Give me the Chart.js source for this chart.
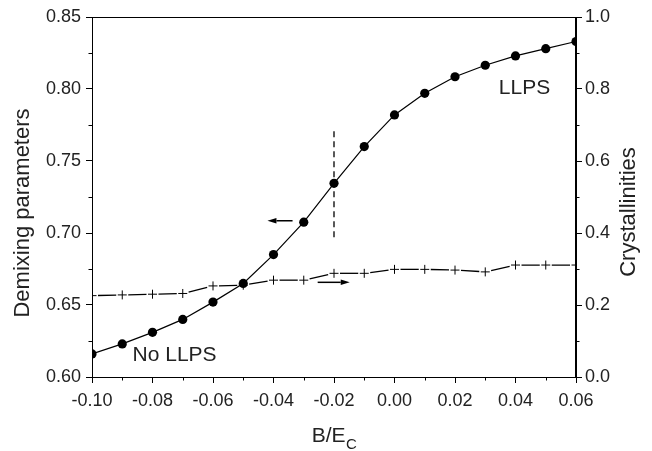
<!DOCTYPE html>
<html>
<head>
<meta charset="utf-8">
<script src="https://cdn.jsdelivr.net/npm/chart.js@4.4.1/dist/chart.umd.min.js"></script>
<style>
  html, body { margin: 0; padding: 0; background: #fff; }
  canvas { display: block; }
</style>
</head>
<body>
<canvas id="chart" width="652" height="451"></canvas>
<script>
// B/Ec values along the x axis
const bOverEc = [-0.10, -0.09, -0.08, -0.07, -0.06, -0.05, -0.04, -0.03, -0.02,
                 -0.01, 0.00, 0.01, 0.02, 0.03, 0.04, 0.05, 0.06];
// demixing parameters (left axis, filled circles)
const demixing = [0.616, 0.623, 0.631, 0.640, 0.652, 0.665, 0.685, 0.7075, 0.7345,
                  0.760, 0.782, 0.797, 0.8085, 0.8165, 0.823, 0.828, 0.833];
// crystallinities (right axis, crosses)
const crystallinity = [0.226, 0.228, 0.230, 0.232, 0.253, 0.255, 0.269, 0.269, 0.288,
                       0.288, 0.299, 0.299, 0.297, 0.292, 0.311, 0.311, 0.311];

// vertical dashed marker at the transition
const boundaryX = -0.02;
const boundaryRange = [0.697, 0.771];

// arrows pointing at the axis each curve belongs to
const arrows = [
  { axis: 'y',  from: [-0.0337, 0.7085], to: [-0.0420, 0.7085] },
  { axis: 'y1', from: [-0.0254, 0.263],  to: [-0.0148, 0.263] }
];

// region labels (left edge, vertical middle), on the left axis
const regionLabels = [
  { text: 'LLPS',    x: 0.0345,  y: 0.8005 },
  { text: 'No LLPS', x: -0.0866, y: 0.6149 }
];

const FONT = '"Liberation Sans", Arial, sans-serif';
const INK = '#222';
const GAP = 6; // gap left round each cross on the dashed line

function toPoints(xs, ys) {
  return xs.map((x, i) => ({ x: x, y: ys[i] }));
}

function segLen(ctx) {
  return Math.hypot(ctx.p1.x - ctx.p0.x, ctx.p1.y - ctx.p0.y);
}

const extras = {
  id: 'extras',
  afterDatasetsDraw(chart) {
    const { ctx, chartArea: a, scales } = chart;
    const x = scales.x;
    ctx.save();

    // frame round the plot
    ctx.strokeStyle = '#000';
    ctx.lineWidth = 1;
    ctx.strokeRect(a.left + 0.5, a.top + 0.5, a.right - a.left - 1, a.bottom - a.top);

    // arrows
    ctx.fillStyle = '#000';
    arrows.forEach(ar => {
      const ys = scales[ar.axis];
      const x0 = x.getPixelForValue(ar.from[0]);
      const x1 = x.getPixelForValue(ar.to[0]);
      const y0 = ys.getPixelForValue(ar.from[1]);
      const dir = Math.sign(x1 - x0);
      const head = 9;
      ctx.beginPath();
      ctx.moveTo(x0, y0);
      ctx.lineTo(x1 - dir * head, y0);
      ctx.lineWidth = 1.5;
      ctx.stroke();
      ctx.beginPath();
      ctx.moveTo(x1, y0);
      ctx.lineTo(x1 - dir * head, y0 - 2.8);
      ctx.lineTo(x1 - dir * head, y0 + 2.8);
      ctx.closePath();
      ctx.fill();
    });

    // region labels
    ctx.fillStyle = INK;
    ctx.font = '21px ' + FONT;
    ctx.textAlign = 'left';
    ctx.textBaseline = 'middle';
    regionLabels.forEach(l => {
      ctx.fillText(l.text, x.getPixelForValue(l.x), scales.y.getPixelForValue(l.y));
    });
    ctx.restore();
  },
  afterDraw(chart) {
    const { ctx, chartArea: a, scales } = chart;
    ctx.save();
    ctx.strokeStyle = '#000';
    ctx.lineWidth = 1;
    const minor = 3.5;

    // minor ticks
    ctx.beginPath();
    for (let v = -0.09; v < 0.06; v += 0.02) {
      const px = Math.round(scales.x.getPixelForValue(v)) + 0.5;
      ctx.moveTo(px, a.bottom);
      ctx.lineTo(px, a.bottom + minor);
    }
    for (let v = 0.625; v < 0.85; v += 0.05) {
      const py = Math.round(scales.y.getPixelForValue(v)) + 0.5;
      ctx.moveTo(a.left, py);
      ctx.lineTo(a.left - minor, py);
    }
    for (let v = 0.1; v < 1; v += 0.2) {
      const py = Math.round(scales.y1.getPixelForValue(v)) + 0.5;
      ctx.moveTo(a.right, py);
      ctx.lineTo(a.right + minor, py);
    }
    ctx.stroke();

    // axis titles
    ctx.fillStyle = INK;
    ctx.font = '22px ' + FONT;
    ctx.textAlign = 'center';
    ctx.textBaseline = 'alphabetic';

    ctx.save();
    ctx.translate(28.5, 213);
    ctx.rotate(-Math.PI / 2);
    ctx.fillText('Demixing parameters', 0, 0);
    ctx.restore();

    ctx.save();
    ctx.translate(635, 212);
    ctx.rotate(-Math.PI / 2);
    ctx.fillText('Crystallinities', 0, 0);
    ctx.restore();

    // B/E with subscript C
    const cx = (a.left + a.right) / 2;
    ctx.font = '21px ' + FONT;
    const wMain = ctx.measureText('B/E').width;
    ctx.font = '15px ' + FONT;
    const wSub = ctx.measureText('C').width;
    const start = cx - (wMain + wSub) / 2;
    ctx.textAlign = 'left';
    ctx.font = '21px ' + FONT;
    ctx.fillText('B/E', start, 442);
    ctx.font = '15px ' + FONT;
    ctx.fillText('C', start + wMain + 0.5, 449);
    ctx.restore();
  }
};

const axisCommon = {
  grid: { drawOnChartArea: false, drawTicks: true, tickLength: 6, color: '#000', lineWidth: 1 },
  border: { display: true, color: '#000', width: 1 },
  ticks: { color: INK, font: { family: FONT, size: 18 } }
};

new Chart(document.getElementById('chart'), {
  type: 'line',
  data: {
    datasets: [
      {
        label: 'Demixing parameters',
        data: toPoints(bOverEc, demixing),
        yAxisID: 'y',
        borderColor: '#000',
        borderWidth: 1.2,
        backgroundColor: '#000',
        pointStyle: 'circle',
        pointRadius: 4.6,
        pointBorderWidth: 0,
        tension: 0,
        clip: 0
      },
      {
        label: 'Crystallinities',
        data: toPoints(bOverEc, crystallinity),
        yAxisID: 'y1',
        borderColor: '#000',
        borderWidth: 1.3,
        pointStyle: 'cross',
        pointRadius: 4.5,
        pointBorderColor: '#000',
        pointBorderWidth: 1,
        tension: 0,
        clip: 0,
        segment: {
          borderDash: ctx => [Math.max(segLen(ctx) - 2 * GAP, 0), 2 * GAP],
          borderDashOffset: ctx => segLen(ctx) - GAP
        }
      },
      {
        label: 'boundary',
        data: boundaryRange.map(v => ({ x: boundaryX, y: v })),
        yAxisID: 'y',
        borderColor: '#000',
        borderWidth: 1.3,
        borderDash: [6, 4],
        pointRadius: 0,
        clip: 0
      }
    ]
  },
  options: {
    responsive: false,
    animation: false,
    devicePixelRatio: 1,
    layout: { padding: { top: 17, left: 0, right: 0, bottom: 0 } },
    plugins: { legend: { display: false }, tooltip: { enabled: false } },
    scales: {
      x: {
        type: 'linear',
        min: -0.10,
        max: 0.06,
        ...axisCommon,
        ticks: {
          ...axisCommon.ticks,
          stepSize: 0.02,
          padding: 7,
          maxRotation: 0,
          callback: v => (Math.abs(v) < 1e-9 ? 0 : v).toFixed(2)
        },
        afterFit: s => { s.height = 74; }
      },
      y: {
        position: 'left',
        min: 0.60,
        max: 0.85,
        ...axisCommon,
        ticks: { ...axisCommon.ticks, stepSize: 0.05, padding: 5, callback: v => v.toFixed(2) },
        afterFit: s => { s.width = 92; }
      },
      y1: {
        position: 'right',
        min: 0,
        max: 1,
        ...axisCommon,
        ticks: { ...axisCommon.ticks, stepSize: 0.2, padding: 3, callback: v => v.toFixed(1) },
        afterFit: s => { s.width = 76; }
      }
    }
  },
  plugins: [extras]
});
</script>
</body>
</html>
